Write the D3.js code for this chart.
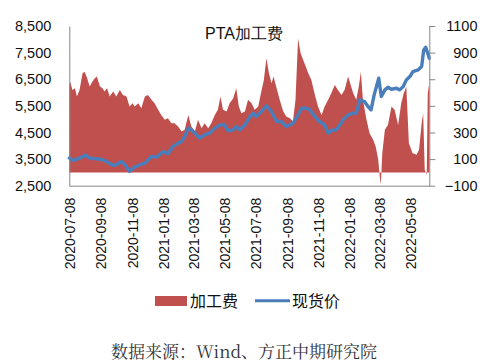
<!DOCTYPE html>
<html><head><meta charset="utf-8">
<script src="https://cdn.jsdelivr.net/npm/d3@7"></script>
<style>body{margin:0;background:#fff}svg{display:block}</style>
</head><body>
<svg id="c" width="484" height="364"></svg>
<script>
const feeDates = ["2020-07-08","2020-07-10","2020-07-14","2020-07-19","2020-07-23","2020-07-28","2020-08-03","2020-08-07","2020-08-12","2020-08-17","2020-08-22","2020-08-27","2020-08-31","2020-09-06","2020-09-11","2020-09-15","2020-09-20","2020-09-25","2020-10-02","2020-10-08","2020-10-15","2020-10-21","2020-10-28","2020-11-03","2020-11-09","2020-11-13","2020-11-20","2020-11-26","2020-12-03","2020-12-09","2020-12-16","2020-12-22","2020-12-29","2021-01-04","2021-01-11","2021-01-17","2021-01-24","2021-01-30","2021-02-06","2021-02-13","2021-02-19","2021-02-26","2021-03-04","2021-03-11","2021-03-17","2021-03-24","2021-03-30","2021-04-06","2021-04-12","2021-04-19","2021-04-25","2021-04-30","2021-05-05","2021-05-12","2021-05-18","2021-05-25","2021-05-31","2021-06-05","2021-06-10","2021-06-17","2021-06-23","2021-06-30","2021-07-06","2021-07-13","2021-07-19","2021-07-24","2021-07-29","2021-08-03","2021-08-08","2021-08-12","2021-08-18","2021-08-24","2021-08-31","2021-09-06","2021-09-13","2021-09-19","2021-09-24","2021-09-29","2021-10-04","2021-10-09","2021-10-14","2021-10-19","2021-10-25","2021-11-01","2021-11-07","2021-11-14","2021-11-20","2021-11-27","2021-12-03","2021-12-10","2021-12-16","2021-12-23","2021-12-29","2022-01-05","2022-01-09","2022-01-15","2022-01-21","2022-01-26","2022-01-30","2022-02-03","2022-02-10","2022-02-16","2022-02-23","2022-02-28","2022-03-05","2022-03-08","2022-03-10","2022-03-13","2022-03-18","2022-03-24","2022-03-31","2022-04-06","2022-04-13","2022-04-19","2022-04-24","2022-04-29","2022-05-04","2022-05-11","2022-05-19","2022-05-24","2022-05-29","2022-06-01","2022-06-04","2022-06-08","2022-06-10","2022-06-13"];
const feeValues = [655,682,620,632,570,620,745,757,707,645,682,707,720,645,632,607,632,570,607,570,620,582,570,495,520,495,520,482,570,582,545,520,470,432,395,407,370,370,345,307,320,432,345,307,395,332,370,332,370,432,470,570,470,457,520,557,632,495,445,457,545,520,470,495,607,695,857,745,670,720,632,545,457,420,407,382,545,1007,895,845,795,745,695,582,495,432,495,545,595,657,620,582,620,720,670,595,545,645,757,545,395,295,245,195,95,-30,-92,145,320,357,495,470,357,520,595,645,220,145,132,170,370,445,20,-17,595,670];

const priceDates = ["2020-07-08","2020-07-16","2020-07-28","2020-08-09","2020-08-17","2020-08-30","2020-09-12","2020-09-22","2020-10-02","2020-10-08","2020-10-18","2020-10-25","2020-11-03","2020-11-10","2020-11-23","2020-12-03","2020-12-16","2020-12-26","2021-01-08","2021-01-17","2021-01-27","2021-02-06","2021-02-13","2021-02-19","2021-02-26","2021-03-04","2021-03-11","2021-03-20","2021-03-30","2021-04-09","2021-04-19","2021-04-29","2021-05-08","2021-05-15","2021-05-25","2021-05-31","2021-06-07","2021-06-17","2021-06-26","2021-07-03","2021-07-09","2021-07-19","2021-07-29","2021-08-08","2021-08-18","2021-08-27","2021-09-06","2021-09-13","2021-09-19","2021-09-29","2021-10-06","2021-10-16","2021-10-22","2021-11-01","2021-11-10","2021-11-20","2021-11-27","2021-12-03","2021-12-13","2021-12-20","2021-12-26","2022-01-05","2022-01-15","2022-01-21","2022-01-28","2022-02-06","2022-02-13","2022-02-19","2022-02-25","2022-03-06","2022-03-11","2022-03-18","2022-03-24","2022-03-31","2022-04-10","2022-04-16","2022-04-23","2022-04-29","2022-05-06","2022-05-12","2022-05-22","2022-05-29","2022-06-02","2022-06-06","2022-06-10","2022-06-13"];
const priceValues = [3537,3450,3537,3650,3537,3512,3475,3375,3262,3287,3412,3287,3037,3162,3287,3350,3600,3575,3787,3700,3975,4100,4162,4350,4662,4600,4475,4287,4412,4475,4662,4787,4787,4562,4600,4725,4600,4787,5075,5225,5100,5287,5500,5287,4912,4912,4725,4787,4850,5162,5412,5412,5350,5100,4912,4787,4475,4575,4600,4787,4975,5162,5225,5225,5725,5662,5475,5350,5912,6537,5850,6100,6200,6125,6162,6100,6225,6475,6600,6787,6850,6975,7600,7700,7475,7287];

const xTickLabels = ["2020-07-08","2020-09-08","2020-11-08","2021-01-08","2021-03-08","2021-05-08","2021-07-08","2021-09-08","2021-11-08","2022-01-08","2022-03-08","2022-05-08"];
const leftTicks = [2500,3500,4500,5500,6500,7500,8500];
const rightTicks = [-100,100,300,500,700,900,1100];
const title = "PTA加工费";
const seriesNames = ["加工费","现货价"];
const source = "数据来源：Wind、方正中期研究院";

const parse = d3.timeParse("%Y-%m-%d");
const svg = d3.select("#c");
const L = 69.3, R = 429.3, T = 26, B = 185.7;
const x = d3.scaleTime().domain([parse("2020-07-08"), parse("2022-06-13")]).range([L, R]);
const yL = d3.scaleLinear().domain([2500, 8500]).range([B, T]);
const yR = d3.scaleLinear().domain([-100, 1100]).range([B, T]);

const fee = feeDates.map((d,i)=>({d:parse(d), v:feeValues[i]}));
const price = priceDates.map((d,i)=>({d:parse(d), v:priceValues[i]}));

const red = "#C0504D", blue = "#4A7EBB", axisCol = "#868686";
const font = "'Liberation Sans', Arial, sans-serif";

svg.append("path").datum(fee)
  .attr("fill", red)
  .attr("d", d3.area().x(p=>x(p.d)).y0(yR(0)).y1(p=>yR(p.v)));

svg.append("path").datum(price)
  .attr("fill", "none").attr("stroke", blue).attr("stroke-width", 3.4)
  .attr("stroke-linejoin", "round").attr("stroke-linecap", "round")
  .attr("d", d3.line().x(p=>x(p.d)).y(p=>yL(p.v)));

// left axis
const gl = svg.append("g").attr("transform", `translate(${L},0)`)
  .call(d3.axisLeft(yL).tickValues(leftTicks).tickSize(0).tickPadding(18).tickFormat(d3.format(",")));
gl.select(".domain").attr("stroke", axisCol);
gl.selectAll("text").attr("font-family", font).attr("font-size", 14.5).attr("fill", "#111");

// right axis
const gr = svg.append("g").attr("transform", `translate(${R},0)`)
  .call(d3.axisRight(yR).tickValues(rightTicks).tickSize(6).tickSizeOuter(0).tickFormat(d3.format("d")));
gr.select(".domain").attr("stroke", axisCol);
gr.selectAll("line").attr("stroke", axisCol);
gr.selectAll("text").attr("font-family", font).attr("font-size", 14.5).attr("fill", "#111")
  .attr("text-anchor", "end").attr("x", 477.5 - R);

// bottom axis
const gb = svg.append("g").attr("transform", `translate(0,${B})`)
  .call(d3.axisBottom(x).tickValues(xTickLabels.map(parse)).tickSize(0).tickSizeOuter(0).tickFormat(d3.timeFormat("%Y-%m-%d")));
gb.select(".domain").attr("stroke", axisCol);
gb.selectAll("text").attr("font-family", font).attr("font-size", 14).attr("fill", "#111")
  .attr("text-anchor", "end").attr("dy", "0.35em").attr("y", 0)
  .attr("transform", "translate(0,12) rotate(-90)");

// title
svg.append("text").attr("x", 244).attr("y", 39).attr("text-anchor", "middle")
  .attr("font-family", font).attr("font-size", 16).attr("fill", "#111").text(title);

// legend
svg.append("rect").attr("x", 155).attr("y", 296).attr("width", 32).attr("height", 10).attr("fill", red);
svg.append("text").attr("x", 190).attr("y", 306.5).attr("font-family", "'Noto Sans CJK SC', sans-serif")
  .attr("font-size", 16).attr("fill", "#111").text(seriesNames[0]);
svg.append("line").attr("x1", 255).attr("x2", 290).attr("y1", 300.7).attr("y2", 300.7)
  .attr("stroke", blue).attr("stroke-width", 3);
svg.append("text").attr("x", 292).attr("y", 306.5).attr("font-family", "'Noto Sans CJK SC', sans-serif")
  .attr("font-size", 16).attr("fill", "#111").text(seriesNames[1]);

// source
svg.append("text").attr("x", 111).attr("y", 358).attr("font-family", "'Noto Serif CJK SC','Noto Sans CJK SC', serif")
  .attr("font-size", 17).attr("fill", "#333").text(source);
</script>
</body></html>
